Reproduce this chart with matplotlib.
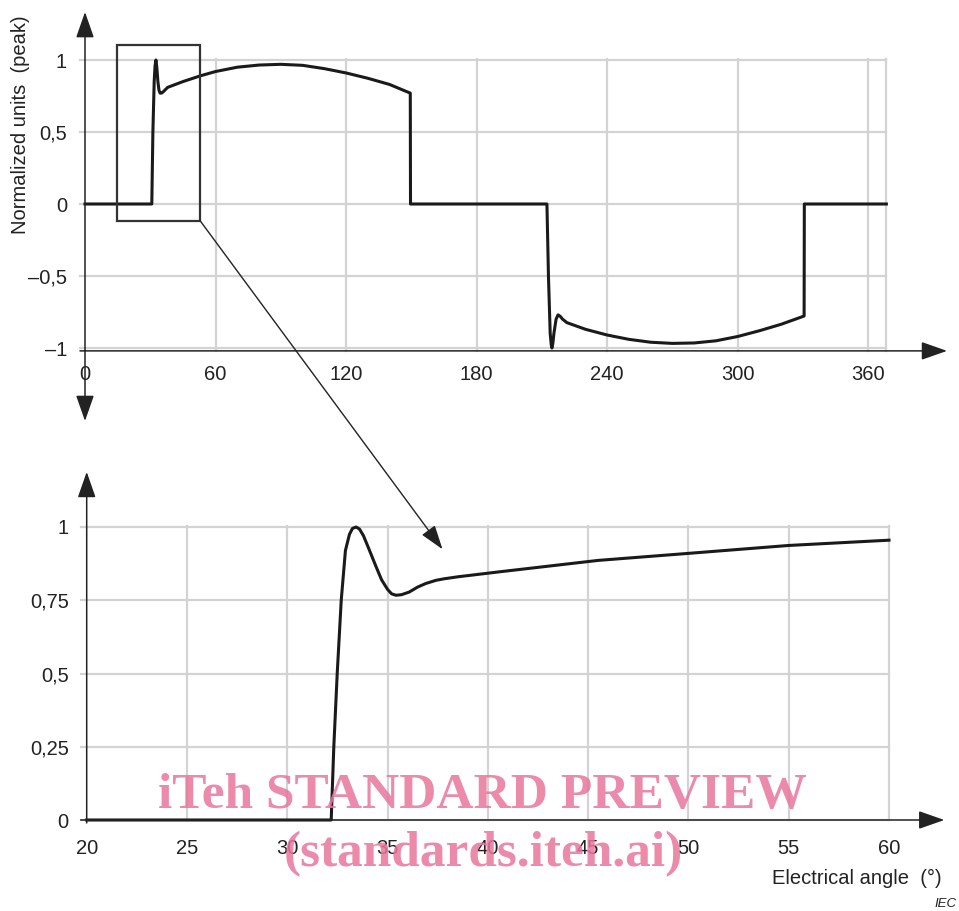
import matplotlib
matplotlib.use("Agg")
from matplotlib import pyplot as plt
from matplotlib.patches import Rectangle, ConnectionPatch

# one full period (degrees, normalized units)
full_angle = [0, 30.7, 31.2, 31.8, 32.2, 32.6, 33.0, 33.5, 34.0, 34.5, 35.2, 36, 38, 45, 53,
              60, 70, 80, 90, 100, 110, 120, 130, 140, 149.5, 149.6, 212.3, 213, 213.8,
              214.3, 214.6, 215.0, 215.5, 216.5, 217.4, 218.4, 219.5, 221.5, 230, 240, 250,
              260, 270, 280, 290, 300, 310, 320, 330.5, 330.6, 368.3]
full_value = [0, 0, 0.5, 0.85, 0.96, 1.0, 0.95, 0.85, 0.79, 0.77, 0.77, 0.78, 0.81, 0.85,
              0.89, 0.92, 0.95, 0.965, 0.97, 0.963, 0.94, 0.91, 0.873, 0.83, 0.77, 0, 0,
              -0.5, -0.9, -0.98, -1.0, -0.97, -0.9, -0.8, -0.77, -0.78, -0.8, -0.824,
              -0.87, -0.91, -0.94, -0.96, -0.968, -0.965, -0.95, -0.92, -0.88, -0.835,
              -0.778, 0, 0]

# detail of the switching transient
zoom_angle = [20, 32.19, 32.32, 32.49, 32.69, 32.9, 33.1, 33.25, 33.43, 33.6, 33.8, 34.1,
              34.43, 34.7, 35.0, 35.2, 35.42, 35.7, 36.08, 36.5, 36.9, 37.41, 37.8, 38.5,
              40.57, 45.5, 50, 55, 60]
zoom_value = [0, 0, 0.25, 0.5, 0.75, 0.92, 0.975, 0.995, 1.0, 0.993, 0.97, 0.92, 0.864,
              0.82, 0.787, 0.772, 0.767, 0.769, 0.778, 0.795, 0.807, 0.818, 0.823, 0.83,
              0.847, 0.886, 0.91, 0.937, 0.955]

top_xticks = [0, 60, 120, 180, 240, 300, 360]
top_yticks = [1, 0.5, 0, -0.5, -1]
top_ylabels = ["1", "0,5", "0", "\u20130,5", "\u20131"]
bot_xticks = [20, 25, 30, 35, 40, 45, 50, 55, 60]
bot_yticks = [1, 0.75, 0.5, 0.25, 0]
bot_ylabels = ["1", "0,75", "0,5", "0,25", "0"]

plt.rcParams['font.family'] = ['Liberation Sans', 'DejaVu Sans']

W, H = 959, 911
fig = plt.figure(figsize=(W / 100, H / 100), dpi=100)


def box(l, r, t, b):
    return [l / W, 1 - b / H, (r - l) / W, (b - t) / H]


GRID = '#d3d3d3'
INK = '#1a1a1a'
AXC = '#222222'
FS = 14.5
arrow_kw = dict(arrowstyle='-|>,head_length=0.8,head_width=0.28', mutation_scale=20,
                lw=1.1, color=AXC, shrinkA=0, shrinkB=0)


def axis_arrow(ax, start, tip):
    ax.annotate('', xy=tip, xytext=start, xycoords='data', arrowprops=arrow_kw,
                annotation_clip=False)


def clean(ax):
    for s in ax.spines.values():
        s.set_visible(False)
    ax.tick_params(length=0, labelsize=FS, colors='#222222')
    ax.patch.set_visible(False)


# ---------------- upper panel ----------------
ax1 = fig.add_axes(box(85, 868.3, 60, 348))
clean(ax1)
ax1.set_xlim(0, 360)
ax1.set_ylim(-1, 1)
for x in top_xticks[1:] + [368.3]:
    ax1.plot([x, x], [-1.02, 1.01], color=GRID, lw=1.6, clip_on=False, zorder=1)
for y in top_yticks:
    ax1.plot([-2.3, 368.3], [y, y], color=GRID, lw=1.6, clip_on=False, zorder=1)
ax1.plot(full_angle, full_value, color=INK, lw=2.2, clip_on=False, zorder=3)
axis_arrow(ax1, (-2.3, -1.02), (396.2, -1.02))
axis_arrow(ax1, (0, -1.02), (0, 1.333))
axis_arrow(ax1, (0, -1.02), (0, -1.507))
ax1.add_patch(Rectangle((14.6, -0.116), 52.9 - 14.6, 1.104 + 0.116, fill=False,
                        ec='#333333', lw=1.6, clip_on=False, zorder=4))
ax1.set_xticks(top_xticks)
ax1.set_xticklabels([str(v) for v in top_xticks])
ax1.tick_params(axis='x', pad=12)
ax1.set_yticks(top_yticks)
ax1.set_yticklabels(top_ylabels)
ax1.tick_params(axis='y', pad=13)

fig.text(21 / W, 1 - 125 / H, "Normalized units  (peak)", rotation=90, ha='center',
         va='center', fontsize=FS, color='#222222')

# ---------------- lower panel ----------------
ax2 = fig.add_axes(box(86.7, 889, 527, 820))
clean(ax2)
ax2.set_xlim(20, 60)
ax2.set_ylim(0, 1)
for x in bot_xticks[1:]:
    ax2.plot([x, x], [0, 1.005], color=GRID, lw=1.6, clip_on=False, zorder=1)
for y in bot_yticks:
    ax2.plot([19.7, 60], [y, y], color=GRID, lw=1.6, clip_on=False, zorder=1)
ax2.plot(zoom_angle, zoom_value, color=INK, lw=2.2, clip_on=False, zorder=3)
axis_arrow(ax2, (19.7, 0), (62.76, 0))
axis_arrow(ax2, (20, -0.01), (20, 1.188))
ax2.set_xticks(bot_xticks)
ax2.set_xticklabels([str(v) for v in bot_xticks])
ax2.tick_params(axis='x', pad=14)
ax2.set_yticks(bot_yticks)
ax2.set_yticklabels(bot_ylabels)
ax2.tick_params(axis='y', pad=13)

# link from the marked window to the detail panel
con = ConnectionPatch(xyA=(52.9, -0.116), coordsA=ax1.transData,
                      xyB=(37.74, 0.924), coordsB=ax2.transData,
                      arrowstyle='-|>,head_length=0.75,head_width=0.25', mutation_scale=20,
                      lw=1.0, color=AXC, shrinkA=0, shrinkB=0, zorder=5)
fig.add_artist(con)

fig.text(942 / W, 1 - 878 / H, "Electrical angle  (\u00b0)", ha='right', va='center',
         fontsize=FS, color='#222222')
fig.text(957 / W, 1 - 904 / H, "IEC", ha='right', va='center', fontsize=9.5,
         style='italic', color='#222222')

# preview watermark
fig.text(482 / W, 1 - 796 / H, "iTeh STANDARD PREVIEW", ha='center', va='center',
         fontsize=37, fontweight='bold', family='Liberation Serif', color='#e8769a',
         alpha=0.85, zorder=10)
fig.text(483 / W, 1 - 854 / H, "(standards.iteh.ai)", ha='center', va='center',
         fontsize=37, fontweight='bold', family='Liberation Serif', color='#e8769a',
         alpha=0.85, zorder=10)

fig.savefig("out.png", dpi=100)
